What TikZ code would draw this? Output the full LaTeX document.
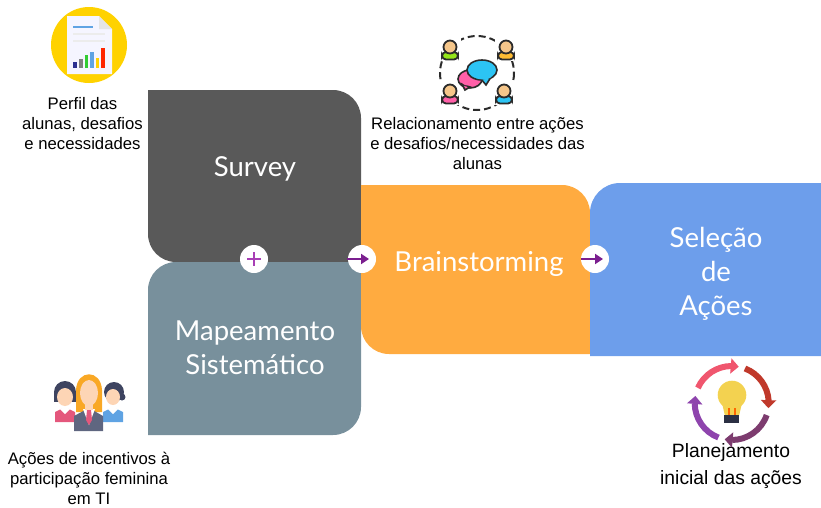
\documentclass[tikz,border=0pt]{standalone}
\usepackage{fontspec}
\usepackage{tikz}
\usetikzlibrary{arrows.meta,bending}
\setmainfont{Liberation Sans}
\newfontfamily\titlefont{Lato}
\definecolor{surveycol}{HTML}{595959}
\definecolor{mapacol}{HTML}{78909C}
\definecolor{braincol}{HTML}{FFAB40}
\definecolor{selecaocol}{HTML}{6D9EEB}
\definecolor{flowcol}{HTML}{7B1F8F}
\definecolor{pluscol}{HTML}{A83FB5}
\definecolor{inkcol}{HTML}{2B2B2B}
\definecolor{sunCol}{HTML}{FFD200}
\definecolor{skinCol}{HTML}{FDD5B5}
\definecolor{toneCol}{HTML}{F5C68A}
\definecolor{navyCol}{HTML}{3E4460}
\definecolor{suitCol}{HTML}{5F6680}
\definecolor{roseCol}{HTML}{E4577C}
\definecolor{skyCol}{HTML}{5FA3E3}
\definecolor{hairCol}{HTML}{F9A825}
\definecolor{bulbCol}{HTML}{F3D250}
\definecolor{chatPink}{HTML}{FF5FA8}
\definecolor{chatBlue}{HTML}{2CC4F4}
\definecolor{ringPink}{HTML}{F0566E}
\definecolor{ringRed}{HTML}{C0392B}
\definecolor{ringPlum}{HTML}{7D3C6F}
\definecolor{ringViolet}{HTML}{8E44AD}
\tikzset{
    title/.style={text=white,align=center,font=\titlefont\fontsize{27.5}{34}\selectfont},
    caption/.style={text=black,align=center,font=\fontsize{16.7}{20}\selectfont},
    hole/.style={circle,fill=white,minimum size=28pt,inner sep=0pt},
    flow/.style={-{Triangle[length=8pt,width=10pt]},line width=2.2pt,flowcol},
    plusline/.style={line width=1.3pt,pluscol},
    ring/.style={-{Triangle[length=8pt,width=15pt,flex]},line width=6pt},
    person/.style={draw=inkcol,line width=1.8pt,rounded corners=4pt},
    chat/.style={draw=inkcol,line width=1.6pt},
}
\begin{document}
\begin{tikzpicture}[x=1pt,y=-1pt]
        \useasboundingbox (0,0) rectangle (821,507);

        \fill[surveycol] (148,90) [rounded corners=28pt] -- (361,90) [sharp corners] -- (361,262) [rounded corners=28pt] -- (148,262) [sharp corners] -- cycle;
        \fill[mapacol] (361,262) [rounded corners=28pt] -- (361,435) [sharp corners] -- (148,435) [rounded corners=28pt] -- (148,262) [sharp corners] -- cycle;
        \fill[braincol] (361,185) [rounded corners=28pt] -- (590,185) [sharp corners] -- (590,354) [rounded corners=28pt] -- (361,354) [sharp corners] -- cycle;
        \fill[selecaocol] (821,356) -- (590,356) [rounded corners=30pt] -- (590,183) [sharp corners] -- (821,183) -- cycle;

        \node [title] (survey) at (255,169) {Survey};
        \node [title] (mapeamento) at (255,347.5) {Mapeamento\\Sistemático};
        \node [title] (brainstorming) at (479,264) {Brainstorming};
        \node [title] (selecao) at (716,273.5) {Seleção\\de\\Ações};

        \node [hole] (somaHole) at (254,259) {};
        \node [hole] (brainHole) at (362,259) {};
        \node [hole] (selecaoHole) at (595,259) {};

        \draw[plusline] (247,259) -- (261,259);
        \draw[plusline] (254,252) -- (254,266);
        \coordinate (brainFrom) at (347,259);
        \coordinate (brainTo) at (369,259);
        \coordinate (selecaoFrom) at (581,259);
        \coordinate (selecaoTo) at (603,259);
        \draw[flow] (brainFrom) -- (brainTo);
        \draw[flow] (selecaoFrom) -- (selecaoTo);

        \node [caption] (perfil) at (82.5,124) {Perfil das\\alunas, desafios\\e necessidades};
        \node [caption] (relacao) at (477.5,144) {Relacionamento entre ações\\e desafios/necessidades das\\alunas};
        \node [caption] (incentivos) at (89,478) {Ações de incentivos à\\participação feminina\\em TI};
        \node [caption,font=\fontsize{19.3}{27}\selectfont] (planejamento) at (731,466.5) {Planejamento\\inicial das ações};

        % relatorio
        \fill[sunCol] (89,45) circle (38);
        \fill[white!96!blue] (67,16) -- (99,16) -- (112,29) -- (112,74) -- (67,74) -- cycle;
        \fill[gray!20] (99,16) -- (112,29) -- (99,29) -- cycle;
        \fill[skyCol] (73,26) rectangle (93,28);
        \fill[gray!15] (73,33) rectangle (105,35);
        \fill[gray!15] (73,40) rectangle (105,42);
        \fill[navyCol!70!blue] (73,62) rectangle (77,68);
        \fill[gray] (79,59) rectangle (83,68);
        \fill[green!60!gray] (85,55) rectangle (88,68);
        \fill[skyCol] (90,52) rectangle (94,68);
        \fill[sunCol] (96,58) rectangle (99,68);
        \fill[red!70!orange] (101,48) rectangle (105,68);

        % grupo
        \draw[inkcol,line width=2pt,dash pattern=on 7pt off 4pt] (477,73) circle (37);
        \foreach \px/\py/\pc in {450/47/green!40!yellow!80!gray, 506/47/braincol!80!yellow, 450/91/chatPink, 504/91/chatBlue} {
            \fill[white] (\px-11,\py-9) rectangle (\px+11,\py+14);
            \draw[person,fill=\pc] (\px-8,\py+12.5) -- (\px-8,\py+5) -- (\px+8,\py+5) -- (\px+8,\py+12.5) -- cycle;
            \draw[inkcol,line width=1.8pt,fill=toneCol] (\px,\py) circle (6.5);
        }
        \draw[chat,fill=chatPink] (470,79) ellipse (12 and 9);
        \draw[chat,fill=chatPink] (462,84) -- (465,90) -- (470,87) -- cycle;
        \fill[chatPink] (468,80) ellipse (7 and 5.5);
        \draw[chat,fill=chatBlue] (482,70) ellipse (15 and 10);
        \draw[chat,fill=chatBlue] (481,79) -- (486,85) -- (491,77) -- cycle;
        \fill[chatBlue] (483,74) ellipse (10 and 5.5);

        % mulheres
        \fill[roseCol] (55,422) -- (55,412) -- (65,407) -- (75,412) -- (75,422) -- cycle;
        \fill[white] (60,409) -- (65,406) -- (70,409) -- (65,414) -- cycle;
        \fill[navyCol] (65,392) circle (11);
        \fill[navyCol] (54,392) rectangle (76,402);
        \fill[skinCol] (65,397) ellipse (8 and 9);
        \fill[skyCol] (103,422) -- (103,412) -- (113,407) -- (123,412) -- (123,422) -- cycle;
        \fill[white] (108,409) -- (113,406) -- (118,409) -- (113,414) -- cycle;
        \fill[navyCol] (114,392) circle (10);
        \fill[navyCol] (122,397) circle (3.5);
        \fill[skinCol] (113,397) ellipse (7 and 8);
        \fill[hairCol] (76,412) -- (76,390) .. controls (77,369) and (101,369) .. (102,390) -- (102,412) -- cycle;
        \fill[suitCol] (74,431) -- (74,416) -- (89,408) -- (103,416) -- (103,431) -- cycle;
        \fill[white] (83,409) -- (95,409) -- (89,425) -- cycle;
        \fill[roseCol] (87,410) -- (91,410) -- (92,420) -- (89,425) -- (86,420) -- cycle;
        \fill[skinCol] (89,393) ellipse (9 and 13);
        \fill[skinCol] (85,400) rectangle (93,410);

        % lampada
        \draw[ring,ringPink] (731.7,403) ++(204:37) arc[start angle=204,end angle=281,radius=37];
        \draw[ring,ringRed] (731.7,403) ++(291:37) arc[start angle=291,end angle=368,radius=37];
        \draw[ring,ringPlum] (731.7,403) ++(19:37) arc[start angle=19,end angle=101,radius=37];
        \draw[ring,ringViolet] (731.7,403) ++(111:37) arc[start angle=111,end angle=191,radius=37];
        \fill[bulbCol] (732,395) circle (14.3);
        \fill[bulbCol] (722,403) -- (742,403) -- (739,416) -- (725,416) -- cycle;
        \fill[navyCol!70!black] (724.3,415) rectangle (739,423);
        \fill[orange!80!red] (727.5,408) rectangle (729.5,415);
        \fill[orange!80!red] (734,408) rectangle (736,415);
    \end{tikzpicture}
\end{document}
